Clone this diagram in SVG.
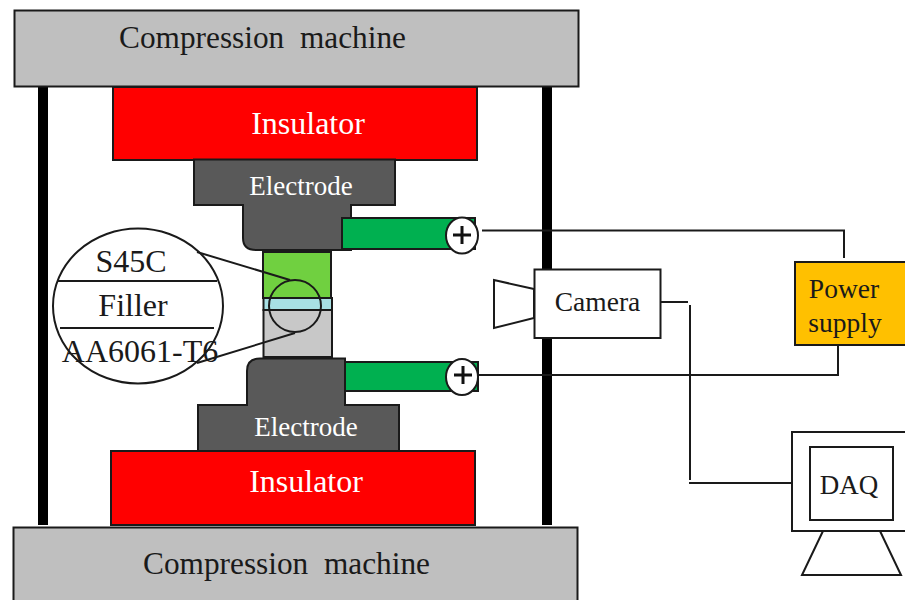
<svg xmlns="http://www.w3.org/2000/svg" width="905" height="600" viewBox="0 0 905 600">
<style>
.s{stroke:#1a1a1a;stroke-width:2}
.w{fill:none;stroke:#1a1a1a;stroke-width:2}
text{font-family:"Liberation Serif","Times New Roman",serif;fill:#1a1a1a;text-anchor:middle}
.lt{fill:#fff}
.gray{fill:#bfbfbf}
.red{fill:#ff0000}
.el{fill:#595959}
.g{fill:#00b050}
</style>
<rect width="905" height="600" fill="#fff"/>
<g id="pillars"><rect x="38" y="87" width="10" height="438" fill="#000"/><rect x="542" y="87" width="10" height="438" fill="#000"/></g>
<g id="compression-top"><rect class="s gray" x="14.500" y="10.500" width="564" height="76"/><text x="262.500" y="48" font-size="31.300" xml:space="preserve">Compression  machine</text></g>
<g id="compression-bottom"><rect class="s gray" x="13.500" y="527.500" width="564" height="80"/><text x="286.500" y="574" font-size="31.300" xml:space="preserve">Compression  machine</text></g>
<g id="insulator-top"><rect class="s red" x="113" y="87" width="364" height="73"/><text class="lt" x="308" y="134" font-size="32">Insulator</text></g>
<g id="insulator-bottom"><rect class="s red" x="111" y="451" width="364" height="74"/><text class="lt" x="306" y="492" font-size="32">Insulator</text></g>
<g id="electrode-top"><path class="s el" d="M194 159.500H395V205H351V250H256Q243 250 243 238V205H194Z"/><text class="lt" x="301" y="195" font-size="27">Electrode</text></g>
<g id="electrode-bottom"><path class="s el" d="M260 358.500H345V405H399V451H198V405H247V371Q247 358.500 260 358.500Z"/><text class="lt" x="306" y="436" font-size="27">Electrode</text></g>
<g id="specimen">
<rect class="s" fill="#70d040" x="263" y="252" width="68" height="46"/>
<rect class="s" fill="#a8e0e4" x="263.500" y="298" width="68.500" height="12"/>
<rect class="s" fill="#c8c8c8" x="263.500" y="310" width="68.500" height="47"/>
</g>
<g id="terminal-top"><rect class="s g" x="342" y="218" width="133" height="31"/><ellipse class="s" fill="#fff" cx="462" cy="235.500" rx="16" ry="18"/><path d="M462 226V244M453 235H471" fill="none" stroke="#111" stroke-width="3"/></g>
<g id="terminal-bottom"><rect class="s g" x="345" y="362" width="133" height="29"/><ellipse class="s" fill="#fff" cx="462" cy="377" rx="16" ry="18"/><path d="M463 366V384M454 375H472" fill="none" stroke="#111" stroke-width="3"/></g>
<g id="detail">
<ellipse class="s" fill="#fff" cx="138" cy="306" rx="85" ry="77.500"/>
<path class="w" d="M57 281H217M60 328H214"/>
<text x="131" y="272" font-size="32">S45C</text>
<text x="133" y="316" font-size="32">Filler</text>
<text x="140" y="362" font-size="32">AA6061-T6</text>
<ellipse class="w" cx="295" cy="306" rx="26" ry="26"/>
</g>
<g id="camera">
<path class="s" fill="#fff" d="M534 289L494 280V328L534 318Z"/>
<rect class="s" fill="#fff" x="534.500" y="269.500" width="126" height="68.500"/>
<text x="597.500" y="311" font-size="27.500">Camera</text>
</g>
<g id="power-supply"><rect class="s" fill="#ffc000" x="795" y="262" width="112" height="83"/><text x="844" y="298" font-size="27.500">Power</text><text x="845" y="332" font-size="27.500">supply</text></g>
<g id="daq">
<rect class="s" fill="#fff" x="792" y="432" width="116" height="99"/>
<rect class="s" fill="#fff" x="810" y="447" width="83" height="73"/>
<text x="849" y="494" font-size="27">DAQ</text>
<path class="w" d="M823 531L802 575H901L880 531"/>
</g>
<g id="connectors">
<path class="w" d="M197 252L290 280M295 333L197 363"/>
<path class="w" d="M482 230.500H844V258"/>
<path class="w" d="M478 375H838V345"/>
<path class="w" d="M660 302H688M690 305V480M689 483H791"/>
</g>
</svg>
